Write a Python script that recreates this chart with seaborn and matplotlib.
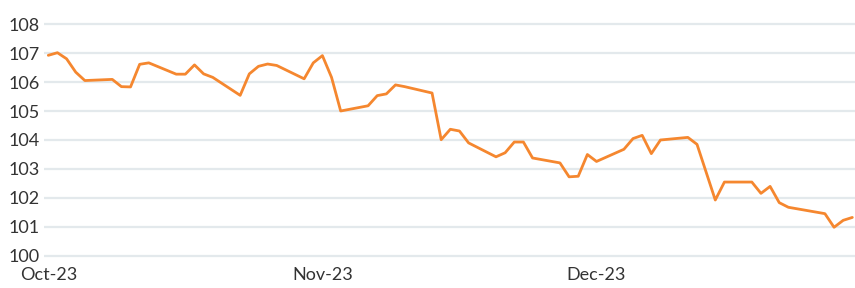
import matplotlib
matplotlib.use("Agg")
import matplotlib.pyplot as plt
import matplotlib.dates as mdates
import seaborn as sns
import pandas as pd

dates = [
    "2023-10-02", "2023-10-03", "2023-10-04", "2023-10-05", "2023-10-06",
    "2023-10-09", "2023-10-10", "2023-10-11", "2023-10-12", "2023-10-13",
    "2023-10-16", "2023-10-17", "2023-10-18", "2023-10-19", "2023-10-20",
    "2023-10-23", "2023-10-24", "2023-10-25", "2023-10-26", "2023-10-27",
    "2023-10-30", "2023-10-31", "2023-11-01", "2023-11-02", "2023-11-03",
    "2023-11-06", "2023-11-07", "2023-11-08", "2023-11-09", "2023-11-10",
    "2023-11-13", "2023-11-14", "2023-11-15", "2023-11-16", "2023-11-17",
    "2023-11-20", "2023-11-21", "2023-11-22", "2023-11-23", "2023-11-24",
    "2023-11-27", "2023-11-28", "2023-11-29", "2023-11-30", "2023-12-01",
    "2023-12-04", "2023-12-05", "2023-12-06", "2023-12-07", "2023-12-08",
    "2023-12-11", "2023-12-12", "2023-12-14", "2023-12-15",
    "2023-12-18", "2023-12-19", "2023-12-20", "2023-12-21", "2023-12-22",
    "2023-12-26", "2023-12-27", "2023-12-28", "2023-12-29",
]
values = [
    106.92, 107.01, 106.80, 106.34, 106.05,
    106.09, 105.84, 105.83, 106.61, 106.66,
    106.27, 106.27, 106.59, 106.28, 106.16,
    105.54, 106.28, 106.54, 106.62, 106.57,
    106.11, 106.66, 106.91, 106.16, 105.00,
    105.18, 105.53, 105.59, 105.90, 105.84,
    105.62, 104.01, 104.37, 104.31, 103.90,
    103.42, 103.56, 103.93, 103.93, 103.38,
    103.21, 102.73, 102.75, 103.50, 103.26,
    103.68, 104.05, 104.16, 103.53, 104.00,
    104.09, 103.85, 101.93, 102.55,
    102.55, 102.16, 102.40, 101.84, 101.68,
    101.46, 100.99, 101.23, 101.33,
]
y_ticks = [100, 101, 102, 103, 104, 105, 106, 107, 108]
x_tick_dates = ["2023-10-02", "2023-11-01", "2023-12-01"]
x_tick_labels = ["Oct-23", "Nov-23", "Dec-23"]

df = pd.DataFrame({"date": pd.to_datetime(dates), "value": values})

sns.set_style("white")
plt.rcParams["font.family"] = ["Lato", "DejaVu Sans"]

fig = plt.figure(figsize=(8.55, 2.88), dpi=100)
ax = fig.add_axes([44 / 855, 28 / 288, 811 / 855, 240 / 288])

sns.lineplot(data=df, x="date", y="value", ax=ax, color="#F5872F",
             linewidth=2.0, zorder=3)

ax.set_ylim(100 - 0.138, 108 + 0.138)
ax.set_xlim(pd.Timestamp("2023-10-02") - pd.Timedelta(hours=11.3),
            pd.Timestamp("2023-12-29") + pd.Timedelta(hours=7))
ax.set_yticks(y_ticks)
ax.set_yticklabels([str(v) for v in y_ticks])
ax.set_xticks(pd.to_datetime(x_tick_dates))
ax.set_xticklabels(x_tick_labels)

ax.grid(axis="y", color="#E3E9EC", linewidth=1.6, zorder=0)
ax.grid(axis="x", visible=False)
for s in ax.spines.values():
    s.set_visible(False)
ax.tick_params(axis="y", length=0, pad=3, labelsize=13, labelcolor="#333333")
ax.tick_params(axis="x", length=0, pad=5, labelsize=13, labelcolor="#333333")
ax.set_xlabel("")
ax.set_ylabel("")

fig.savefig("out.png", dpi=100)
